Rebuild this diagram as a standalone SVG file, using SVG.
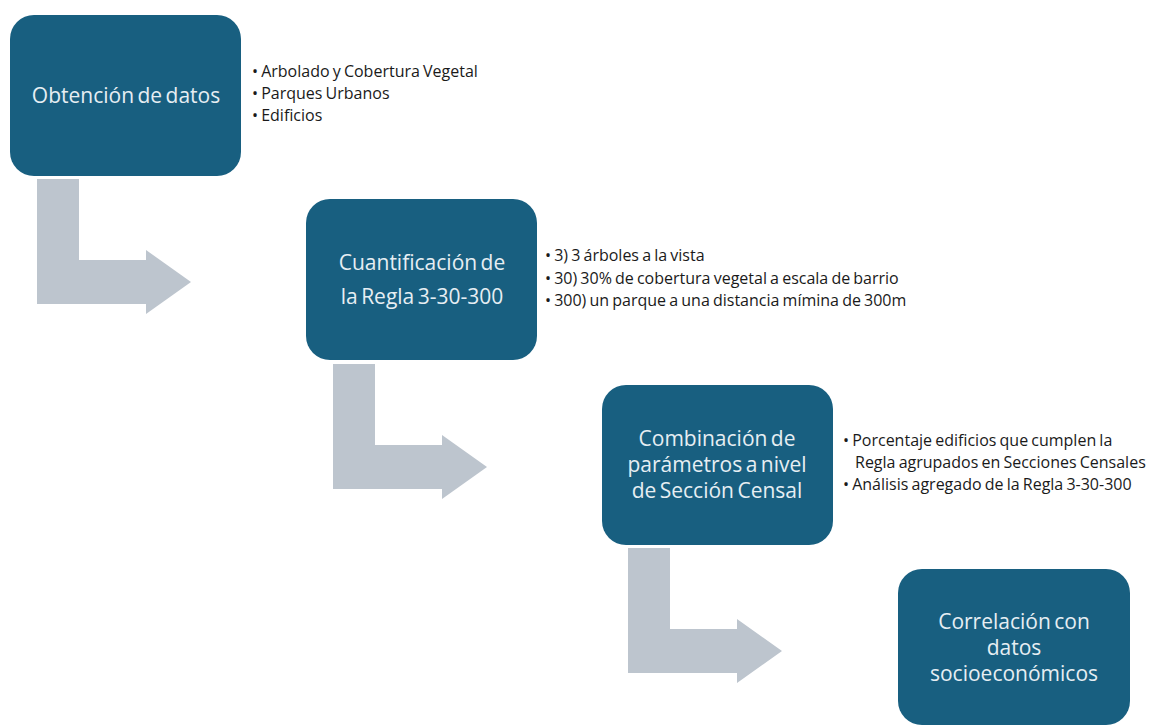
<svg xmlns="http://www.w3.org/2000/svg" width="1165" height="726" viewBox="0 0 1165 726">
<style>
.node{fill:#185f80}
.nt{font-family:"Open Sans","Liberation Sans",sans-serif;font-size:21px;fill:#e6eef3;text-anchor:middle;word-spacing:-2px}
.bt{font-family:"Open Sans","Liberation Sans",sans-serif;font-size:16px;fill:#1a1a1a;word-spacing:-1px}
.arr{fill:#bdc5ce}
</style>
<rect width="1165" height="726" fill="#ffffff"/>
<g id="connectors">
<path class="arr" d="M37,179 H79 V260 H146 V250 L191,282 L146,314 V304 H37 Z"/>
<path class="arr" d="M333,364 H375 V445 H442 V435 L487,467 L442,499 V489 H333 Z"/>
<path class="arr" d="M628,548 H670 V629 H737 V619 L782,651 L737,683 V673 H628 Z"/>
</g>
<g id="node1">
<rect class="node" x="10" y="15" width="231" height="161" rx="24"/>
<text class="nt" x="126" y="103">Obtención de datos</text>
<text class="bt" x="252" y="77">• Arbolado y Cobertura Vegetal</text>
<text class="bt" x="252" y="99">• Parques Urbanos</text>
<text class="bt" x="252" y="121">• Edificios</text>
</g>
<g id="node2">
<rect class="node" x="306" y="199" width="231" height="161" rx="24"/>
<text class="nt" x="422" y="270">Cuantificación de</text>
<text class="nt" x="422" y="304">la Regla 3-30-300</text>
<text class="bt" x="545" y="261">• 3) 3 árboles a la vista</text>
<text class="bt" x="545" y="284">• 30) 30% de cobertura vegetal a escala de barrio</text>
<text class="bt" x="545" y="306">• 300) un parque a una distancia mímina de 300m</text>
</g>
<g id="node3">
<rect class="node" x="602" y="385" width="231" height="160" rx="24"/>
<text class="nt" x="717" y="446">Combinación de</text>
<text class="nt" x="717" y="472">parámetros a nivel</text>
<text class="nt" x="717" y="498">de Sección Censal</text>
<text class="bt" x="843" y="446">• Porcentaje edificios que cumplen la</text>
<text class="bt" x="855" y="468">Regla agrupados en Secciones Censales</text>
<text class="bt" x="843" y="490">• Análisis agregado de la Regla 3-30-300</text>
</g>
<g id="node4">
<rect class="node" x="898" y="569" width="232" height="156" rx="24"/>
<text class="nt" x="1014" y="629">Correlación con</text>
<text class="nt" x="1014" y="655">datos</text>
<text class="nt" x="1014" y="681">socioeconómicos</text>
</g>
</svg>
